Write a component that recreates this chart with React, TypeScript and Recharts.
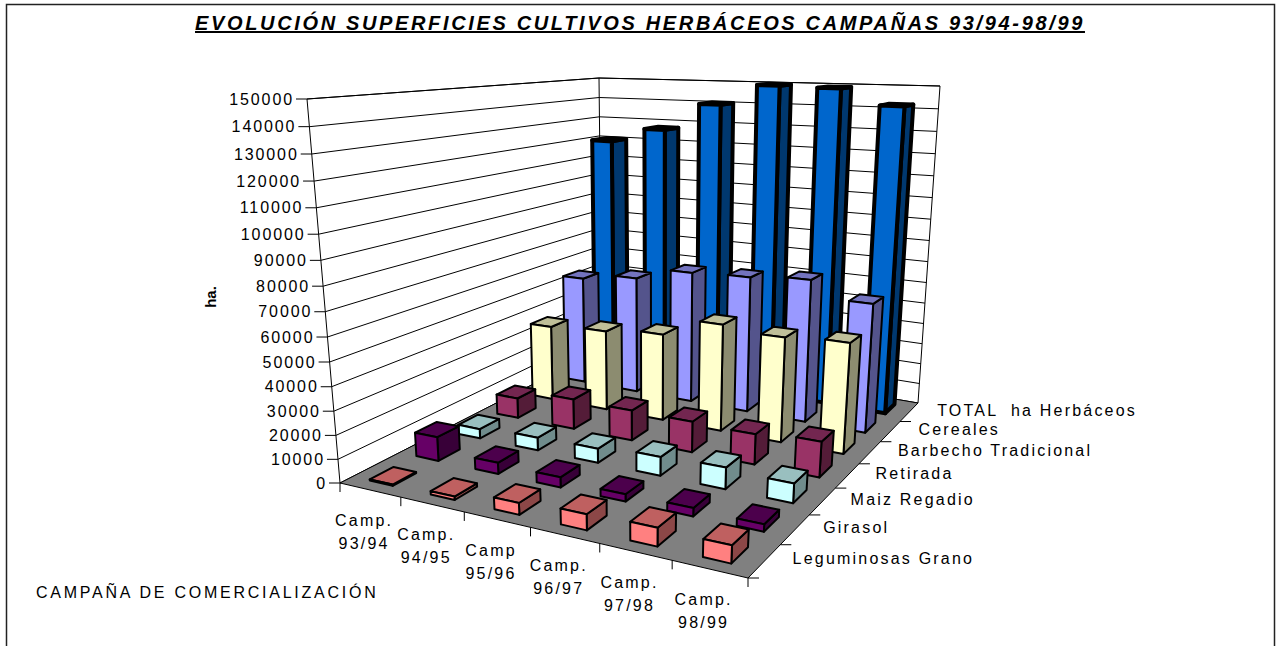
import { Bar, BarChart, CartesianGrid, XAxis, YAxis } from 'recharts';

const W = 1279;
const H = 646;
const PLOT_H = 645;
const MAX = 150000;

const campaigns = ['93/94', '94/95', '95/96', '96/97', '97/98', '98/99'];
const campaignHead = ['Camp.', 'Camp.', 'Camp', 'Camp.', 'Camp.', 'Camp.'];
const yTicks = [0, 10000, 20000, 30000, 40000, 50000, 60000, 70000, 80000, 90000, 100000, 110000, 120000, 130000, 140000, 150000];

// front row first
const seriesNames = ['Leguminosas Grano', 'Girasol', 'Maiz Regadio', 'Retirada', 'Barbecho Tradicional', 'Cereales', 'TOTAL  ha Herbáceos'];
const leguminosas = [500, 1400, 4700, 6200, 7000, 6600];
const girasol = [10500, 4800, 4300, 3000, 3300, 2900];
const maiz = [4300, 5700, 6200, 8000, 9000, 8000];
const retirada = [9500, 14000, 13800, 13800, 13300, 15200];
const barbecho = [36700, 38500, 41000, 49500, 47500, 49000];
const cereales = [54500, 58000, 64000, 65000, 67000, 59500];
const total = [120000, 127000, 140000, 149500, 149000, 142000];
const allSeries = [leguminosas, girasol, maiz, retirada, barbecho, cereales, total];

const front = ['#FF8080', '#660066', '#CCFFFF', '#993366', '#FFFFCC', '#9999FF', '#0066CC'];
const side = ['#8C4747', '#380038', '#708C8C', '#541C38', '#8C8C70', '#54548C', '#00386F'];
const top = ['#BF6060', '#4C004C', '#99BFBF', '#732650', '#BFBF99', '#7373BF', '#004C99'];

const table = campaigns.map((c, i) => {
  const row: Record<string, number | string> = { name: c };
  allSeries.forEach((s, k) => {
    row['s' + k] = s[i];
  });
  return row;
});

// corners of the plot box: floor and ceiling, [front left, front right, back right, back left]
const floorBox = [[340, 483], [748, 578], [918, 403], [602, 349]];
const roofBox = [[307, 99], [769, 116], [940, 86], [599, 78]];
const K = -0.08;

function quad(q: number[][]) {
  const [p0, p1, p2, p3] = q;
  const dx1 = p1[0] - p2[0];
  const dx2 = p3[0] - p2[0];
  const sx = p0[0] - p1[0] + p2[0] - p3[0];
  const dy1 = p1[1] - p2[1];
  const dy2 = p3[1] - p2[1];
  const sy = p0[1] - p1[1] + p2[1] - p3[1];
  const den = dx1 * dy2 - dx2 * dy1;
  const g = (sx * dy2 - dx2 * sy) / den;
  const h = (dx1 * sy - sx * dy1) / den;
  return (u: number, v: number) => {
    const w = g * u + h * v + 1;
    return [
      ((p1[0] - p0[0] + g * p1[0]) * u + (p3[0] - p0[0] + h * p3[0]) * v + p0[0]) / w,
      ((p1[1] - p0[1] + g * p1[1]) * u + (p3[1] - p0[1] + h * p3[1]) * v + p0[1]) / w,
    ];
  };
}
const onFloor = quad(floorBox);
const onRoof = quad(roofBox);

function project(u: number, v: number, t: number) {
  const f = (t * (1 + K)) / (1 + K * t);
  const p = onFloor(u, v);
  const q = onRoof(u, v);
  return [p[0] + (q[0] - p[0]) * f, p[1] + (q[1] - p[1]) * f];
}
const pts = (list: number[][]) => list.map((p) => p[0].toFixed(1) + ',' + p[1].toFixed(1)).join(' ');

const BAR_U0 = 0.29;
const BAR_U = 0.38;
const BAR_V = 0.5;

function makeBox(k: number) {
  return function Box(props: any) {
    const t = props.height / PLOT_H;
    const i = props.index;
    const u0 = (i + BAR_U0) / campaigns.length;
    const u1 = u0 + BAR_U / campaigns.length;
    const v0 = (k + (1 - BAR_V) / 2) / seriesNames.length;
    const v1 = v0 + BAR_V / seriesNames.length;
    const sw = k === 6 ? 4 : 2;
    return (
      <g stroke="#000" strokeWidth={sw} strokeLinejoin="round">
        <polygon fill={side[k]} points={pts([project(u1, v0, 0), project(u1, v1, 0), project(u1, v1, t), project(u1, v0, t)])} />
        <polygon fill={top[k]} points={pts([project(u0, v0, t), project(u1, v0, t), project(u1, v1, t), project(u0, v1, t)])} />
        <polygon fill={front[k]} points={pts([project(u0, v0, 0), project(u1, v0, 0), project(u1, v0, t), project(u0, v0, t)])} />
      </g>
    );
  };
}

function wallLine(props: any) {
  const t = (PLOT_H - props.y1) / PLOT_H;
  return (
    <polyline
      key={props.key ?? props.index}
      fill="none"
      stroke="#000"
      strokeWidth={1}
      points={pts([project(0, 0, t), project(0, 1, t), project(1, 1, t)])}
    />
  );
}

function ValueTick(props: any) {
  const t = (PLOT_H - props.y) / PLOT_H;
  const p = project(0, 0, t);
  return (
    <g>
      <line x1={p[0] - 11} y1={p[1]} x2={p[0]} y2={p[1]} stroke="#000" strokeWidth={1} />
      <text x={p[0] - 13} y={p[1]} textAnchor="end" dominantBaseline="central" fontSize={16} letterSpacing={1.9} fill="#000" fontFamily="'Liberation Sans'">
        {props.payload.value}
      </text>
    </g>
  );
}

function CampaignTick(props: any) {
  const i = props.index;
  const p = project((i + 0.5) / campaigns.length, 0, 0);
  const q = project((i + 1) / campaigns.length, 0, 0);
  const z = i === 0 ? project(0, 0, 0) : null;
  return (
    <g>
      {z && <line x1={z[0]} y1={z[1]} x2={z[0]} y2={z[1] + 9} stroke="#000" strokeWidth={1} />}
      <line x1={q[0]} y1={q[1]} x2={q[0]} y2={q[1] + 9} stroke="#000" strokeWidth={1} />
      <text textAnchor="middle" fontSize={16} letterSpacing={2.2} fill="#000" fontFamily="'Liberation Sans'">
        <tspan x={p[0] - 6} y={p[1] + 36}>{campaignHead[i]}</tspan>
        <tspan x={p[0] - 6} y={p[1] + 59}>{props.payload.value}</tspan>
      </text>
    </g>
  );
}

export default function App() {
  return (
    <div style={{ position: 'absolute', left: 0, top: 0, width: W, height: H, background: '#fff' }}>
      <BarChart width={W} height={H} data={table} margin={{ top: 0, right: 0, bottom: 0, left: 0 }}>
        <rect x={6.5} y={4.5} width={1268} height={700} fill="none" stroke="#222" strokeWidth={1.5} />
        <polygon fill="#808080" stroke="#000" strokeWidth={1} points={pts([project(0, 0, 0), project(1, 0, 0), project(1, 1, 0), project(0, 1, 0)])} />
        <CartesianGrid vertical={false} horizontal={wallLine} horizontalValues={yTicks} />
        <polyline fill="none" stroke="#000" strokeWidth={1} points={pts([project(0, 0, 0), project(0, 0, 1)])} />
        <polyline fill="none" stroke="#000" strokeWidth={1} points={pts([project(0, 1, 0), project(0, 1, 1)])} />
        <polyline fill="none" stroke="#000" strokeWidth={1} points={pts([project(1, 1, 0), project(1, 1, 1)])} />
        <polyline fill="none" stroke="#000" strokeWidth={1} points={pts([project(0, 0, 1), project(0, 1, 1), project(1, 1, 1)])} />
        <XAxis dataKey="name" height={1} axisLine={false} tickLine={false} interval={0} tick={CampaignTick} />
        <YAxis width={1} domain={[0, MAX]} ticks={yTicks} interval={0} axisLine={false} tickLine={false} tick={ValueTick} />
        {seriesNames.map((_, k) => seriesNames.length - 1 - k).map((k) => (
          <Bar key={k} dataKey={'s' + k} isAnimationActive={false} shape={makeBox(k)} />
        ))}
        {seriesNames.map((name, k) => {
          const p = project(1, k / seriesNames.length, 0);
          const c = project(1, (k + 0.5) / seriesNames.length, 0);
          return (
            <g key={name}>
              <line x1={p[0]} y1={p[1]} x2={p[0] + 11} y2={p[1]} stroke="#000" strokeWidth={1} />
              <text x={c[0] + 28} y={c[1] - 2} dominantBaseline="central" fontSize={16} letterSpacing={2.2} fill="#000" fontFamily="'Liberation Sans'" xmlSpace="preserve">
                {name}
              </text>
            </g>
          );
        })}
        <text x={640} y={30} textAnchor="middle" fontSize={20} fontWeight="bold" fontStyle="italic" letterSpacing={2.65} textDecoration="underline" fill="#000" fontFamily="'Liberation Sans'">
          EVOLUCIÓN SUPERFICIES CULTIVOS HERBÁCEOS CAMPAÑAS 93/94-98/99
        </text>
        <text x={0} y={0} transform="translate(210,297) rotate(-90)" textAnchor="middle" dominantBaseline="central" fontSize={15} fontWeight="bold" fill="#000" fontFamily="'Liberation Sans'">
          ha.
        </text>
        <text x={36} y={592} dominantBaseline="central" fontSize={16} letterSpacing={2.75} fill="#000" fontFamily="'Liberation Sans'">
          CAMPAÑA DE COMERCIALIZACIÓN
        </text>
      </BarChart>
    </div>
  );
}
